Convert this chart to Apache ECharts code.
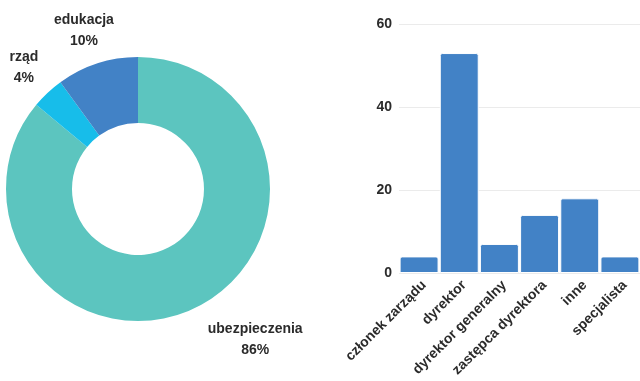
<!DOCTYPE html>
<html>
<head>
<meta charset="utf-8">
<script src="https://cdn.jsdelivr.net/npm/echarts@6/dist/echarts.min.js"></script>
<style>
  html, body { margin: 0; padding: 0; background: #fff; }
  #chart { width: 640px; height: 381px; }
</style>
</head>
<body>
<div id="chart"></div>
<script>
// Sector shares (percent)
const sectorNames = ['ubezpieczenia', 'rząd', 'edukacja'];
const sectorValues = [86, 4, 10];
const sectorColors = ['#5cc5bf', '#17bdea', '#4282c6'];

// Positions held
const roleNames = ['członek zarządu', 'dyrektor', 'dyrektor generalny', 'zastępca dyrektora', 'inne', 'specjalista'];
const roleCounts = [4, 53, 7, 14, 18, 4];
const yTicks = [0, 20, 40, 60];

const PIE_CENTER = [138, 189];
const PIE_RADIUS = [66, 132];
const LABEL_GAP = 13; // distance of the label anchor beyond the outer edge
const LABEL_PAD = 8;  // extra side clearance for labels below the ring

const chart = echarts.init(document.getElementById('chart'), null, { renderer: 'canvas' });

const textStyle = { fontFamily: 'Liberation Sans, Arial, sans-serif', fontWeight: 'bold', color: '#2b2b2b' };

// Direction (unit vector) of each slice's middle, clockwise from 12 o'clock
const total = sectorValues.reduce((a, b) => a + b, 0);
const sliceDirs = [];
let acc = 0;
sectorValues.forEach(v => {
  const mid = (acc + v / 2) / total * Math.PI * 2;
  sliceDirs.push([Math.sin(mid), -Math.cos(mid)]);
  acc += v;
});

// Put each pie label just outside its slice, pushed out by its own size
function pieLabelLayout(params) {
  if (params.seriesIndex !== 0) return {};
  const d = sliceDirs[params.dataIndex];
  const r = PIE_RADIUS[1] + LABEL_GAP;
  const w = params.labelRect.width, h = params.labelRect.height;
  const ax = PIE_CENTER[0] + d[0] * r;
  const ay = PIE_CENTER[1] + d[1] * r;
  const sx = d[1] > 0 ? Math.sign(d[0]) * (w / 2 + LABEL_PAD) : d[0] * w / 2;
  const sy = d[1] * h / 2;
  return { x: ax + sx, y: ay + sy, align: 'center', verticalAlign: 'middle' };
}

chart.setOption({
  animation: false,
  textStyle: { fontFamily: 'Liberation Sans, Arial, sans-serif' },
  grid: { left: 399, top: 24, width: 245, bottom: 108, containLabel: false },
  xAxis: {
    type: 'category',
    data: roleNames,
    axisLine: { show: false },
    axisTick: { show: false },
    axisLabel: Object.assign({}, textStyle, { fontSize: 14, rotate: 45, interval: 0, margin: 5, verticalAlign: 'top' })
  },
  yAxis: {
    type: 'value',
    min: yTicks[0],
    max: yTicks[yTicks.length - 1],
    interval: 20,
    axisLine: { show: false },
    axisTick: { show: false },
    splitLine: { lineStyle: { color: '#ebebeb', width: 1 } },
    axisLabel: Object.assign({}, textStyle, { fontSize: 14, margin: 7 })
  },
  series: [
    {
      type: 'pie',
      center: PIE_CENTER,
      radius: PIE_RADIUS,
      startAngle: 90,
      clockwise: true,
      data: sectorNames.map((n, i) => ({ name: n, value: sectorValues[i], itemStyle: { color: sectorColors[i] } })),
      label: Object.assign({}, textStyle, {
        show: true,
        position: 'outside',
        fontSize: 14,
        lineHeight: 21,
        align: 'center',
        overflow: 'none',
        formatter: p => p.name + '\n' + p.value + '%'
      }),
      labelLine: { show: false },
      labelLayout: pieLabelLayout,
      emphasis: { disabled: true }
    },
    {
      type: 'bar',
      data: roleCounts,
      barCategoryGap: '3%',
      itemStyle: { color: '#4282c6', borderColor: '#ffffff', borderWidth: 1, borderRadius: [2, 2, 0, 0] },
      emphasis: { disabled: true }
    }
  ]
});
</script>
</body>
</html>
